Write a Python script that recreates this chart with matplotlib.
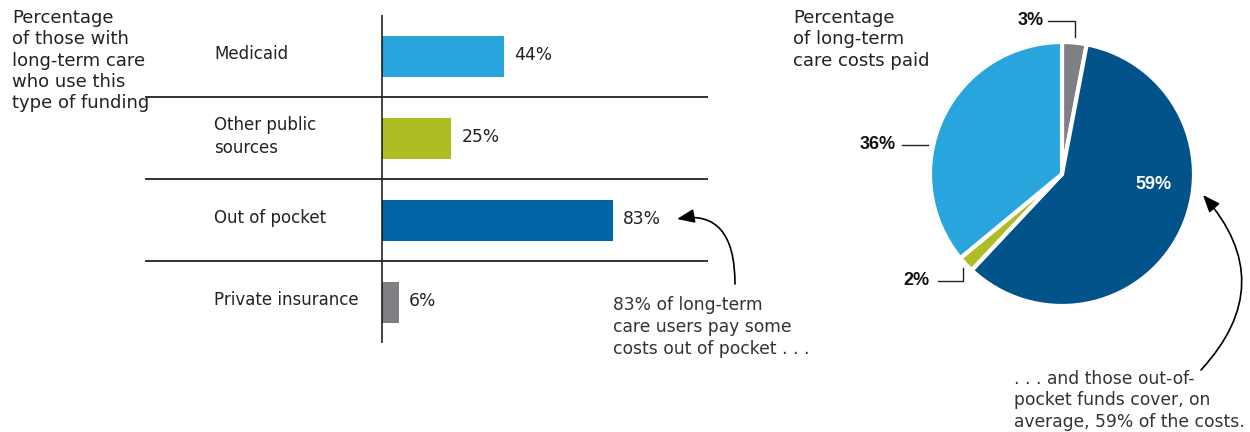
import matplotlib
matplotlib.use("Agg")
import matplotlib.pyplot as plt

# bar chart data
categories = ["Medicaid", "Other public\nsources", "Out of pocket", "Private insurance"]
users_pct = [44, 25, 83, 6]
bar_colors = ["#29a5dd", "#aebd23", "#0065a4", "#7f8083"]

# pie data (clockwise from 12 o'clock)
pie_labels = ["3%", "59%", "2%", "36%"]
costs_pct = [3, 59, 2, 36]
pie_colors = ["#7f8083", "#02538a", "#aebd23", "#29a5dd"]

WIDE = ["DejaVu Sans"]
TXT = "#222222"

fig = plt.figure(figsize=(12.5, 4.32), dpi=100)
W, H = 1250, 432

# ---- bar chart ----
ax = fig.add_axes([145 / W, (H - 343) / H, 563 / W, 328 / H])
ypos = range(len(categories))
ax.barh(ypos, users_pct, height=0.5, color=bar_colors)
ax.set_xlim(-85.25, 117.3)
ax.set_ylim(3.5, -0.5)
ax.axis("off")
ax.axvline(0, color="#111111", lw=1.1)
for b in [0.5, 1.5, 2.5]:
    ax.axhline(b, color="#222222", lw=1.3)
for i, (cat, v) in enumerate(zip(categories, users_pct)):
    ax.text(-60.4, i - 0.02, cat, ha="left", va="center", fontsize=12,
            family=WIDE, color=TXT, linespacing=1.35)
    ax.text(v + 3.6, i - 0.01, f"{v}%", ha="left", va="center", fontsize=12.3,
            family=WIDE, color=TXT)

fig.text(12 / W, 1 - 9 / H,
         "Percentage\nof those with\nlong-term care\nwho use this\ntype of funding",
         ha="left", va="top", fontsize=13, family=WIDE, color=TXT, linespacing=1.24)

fig.text(613 / W, 1 - 296 / H,
         "83% of long-term\ncare users pay some\ncosts out of pocket . . .",
         ha="left", va="top", fontsize=12.3, family=WIDE, color="#333333", linespacing=1.27)

ax.annotate("", xy=(677, H - 219), xycoords="figure pixels",
            xytext=(735, H - 284), textcoords="figure pixels",
            arrowprops=dict(arrowstyle="-|>,head_length=0.75,head_width=0.3",
                            mutation_scale=14, color="black", lw=1.2,
                            shrinkA=0, shrinkB=0,
                            connectionstyle="angle3,angleA=90,angleB=10"),
            annotation_clip=False)

# ---- pie chart ----
pax = fig.add_axes([930 / W, (H - 306) / H, 264 / W, 264 / H])
pax.pie(costs_pct, colors=pie_colors, startangle=90, counterclock=False, radius=1,
        wedgeprops=dict(edgecolor="white", linewidth=3))
pax.set_xlim(-1, 1)
pax.set_ylim(-1, 1)
pax.set_aspect("equal")
pax.axis("off")

bold = dict(fontsize=13, family=["Liberation Sans"], fontweight="bold", color="#111111")
pax.text(0.69, -0.08, pie_labels[1], ha="center", va="center",
         **{**bold, "color": "white"})
pax.text(-0.24, 1.16, pie_labels[0], ha="center", va="center", **bold)
pax.plot([-0.106, 0.098, 0.098], [1.159, 1.159, 1.038], color="#222222", lw=1, clip_on=False)
pax.text(-1.258, 0.22, pie_labels[3], ha="right", va="center", **bold)
pax.plot([-1.212, -1.015], [0.22, 0.22], color="#222222", lw=1, clip_on=False)
pax.text(-1.0, -0.81, pie_labels[2], ha="right", va="center", **bold)
pax.plot([-0.94, -0.75, -0.75], [-0.81, -0.81, -0.712], color="#222222", lw=1, clip_on=False)

fig.text(793 / W, 1 - 9 / H, "Percentage\nof long-term\ncare costs paid",
         ha="left", va="top", fontsize=13, family=WIDE, color=TXT, linespacing=1.24)

fig.text(1014 / W, 1 - 370 / H,
         ". . . and those out-of-\npocket funds cover, on\naverage, 59% of the costs.",
         ha="left", va="top", fontsize=12.3, family=WIDE, color="#333333", linespacing=1.24)

pax.annotate("", xy=(1203, H - 195), xycoords="figure pixels",
             xytext=(1201, H - 370), textcoords="figure pixels",
             arrowprops=dict(arrowstyle="-|>,head_length=0.75,head_width=0.3",
                             mutation_scale=14, color="black", lw=1.2,
                             shrinkA=0, shrinkB=0,
                             connectionstyle="arc3,rad=0.45"),
             annotation_clip=False)

fig.savefig("out.png", dpi=100)
